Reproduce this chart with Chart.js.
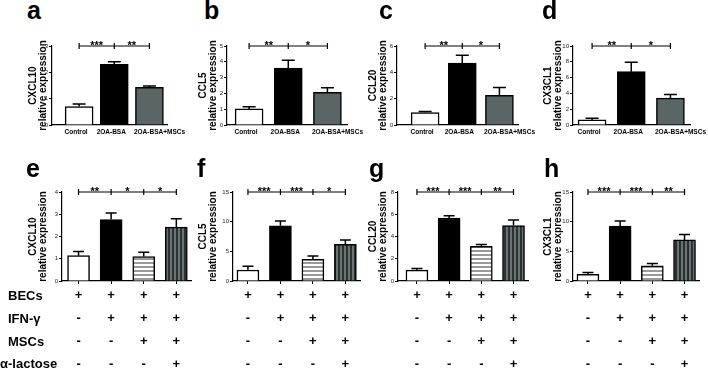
<!DOCTYPE html>
<html>
<head>
<meta charset="utf-8">
<script src="https://cdn.jsdelivr.net/npm/chart.js@4"></script>
<style>
  body { margin: 0; width: 708px; height: 368px; background: #fff; position: relative; overflow: hidden;
         font-family: "Liberation Sans", Arial, sans-serif; }
  canvas { position: absolute; }
  .lbl { position: absolute; font-weight: bold; color: #000; line-height: 1; white-space: nowrap; }
  .letter { font-size: 25px; line-height: 25px; }
  .row { font-size: 13px; line-height: 13px; }
</style>
</head>
<body>
<script>
// ---- data ----
const topCats = ["Control", "2OA-BSA", "2OA-BSA+MSCs"];

const becs = ["+", "+", "+", "+"];
const ifnG = ["-", "+", "+", "+"];
const mscs = ["-", "-", "+", "+"];
const lactose = ["-", "-", "-", "+"];
const rowNames = ["BECs", "IFN-γ", "MSCs", "α-lactose"];

const cxcl10A = [0.70, 2.30, 1.43];
const cxcl10AErr = [0.80, 2.40, 1.48];
const cxcl10ASig = ["***", "**"];

const ccl5B = [1.02, 3.60, 2.07];
const ccl5BErr = [1.15, 4.10, 2.35];
const ccl5BSig = ["**", "*"];

const ccl20C = [0.95, 4.70, 2.25];
const ccl20CErr = [1.02, 5.30, 2.85];
const ccl20CSig = ["**", "*"];

const cx3cl1D = [0.64, 6.75, 3.41];
const cx3cl1DErr = [0.84, 7.95, 3.86];
const cx3cl1DSig = ["**", "*"];

const cxcl10E = [1.14, 2.76, 1.10, 2.42];
const cxcl10EErr = [1.33, 3.06, 1.29, 2.80];
const cxcl10ESig = ["**", "*", "*"];

const ccl5F = [1.85, 9.30, 3.65, 6.20];
const ccl5FErr = [2.50, 10.1, 4.20, 6.90];
const ccl5FSig = ["***", "***", "*"];

const ccl20G = [0.98, 5.66, 3.11, 4.98];
const ccl20GErr = [1.13, 5.87, 3.29, 5.48];
const ccl20GSig = ["***", "***", "**"];

const cx3cl1H = [1.14, 9.25, 2.55, 6.93];
const cx3cl1HErr = [1.42, 10.1, 2.95, 7.84];
const cx3cl1HSig = ["***", "***", "**"];

// ---- fills ----
function stripes(dir, bg, fg) {
  const c = document.createElement("canvas");
  c.width = 4; c.height = 4;
  const g = c.getContext("2d");
  g.fillStyle = bg; g.fillRect(0, 0, 4, 4);
  g.fillStyle = fg;
  if (dir === "h") g.fillRect(0, 0, 4, 2); else g.fillRect(0, 0, 2, 4);
  return g.createPattern(c, "repeat");
}
const topFills = ["#ffffff", "#000000", "#5a6565"];
const bottomFills = ["#ffffff", "#000000", stripes("h", "#ffffff", "#9a9a9a"), stripes("v", "#6a7474", "#2a3030")];

// ---- panels ----
const panels = [
  { key: "a", gene: "CXCL10", values: cxcl10A, err: cxcl10AErr, sig: cxcl10ASig, yMax: 3, step: 1,
    L: 28, axis: 52, c0: 79, pitch: 35, top: 46, bottom: 125 },
  { key: "b", gene: "CCL5", values: ccl5B, err: ccl5BErr, sig: ccl5BSig, yMax: 5, step: 1,
    L: 198, axis: 227, c0: 249, pitch: 39, top: 46, bottom: 125 },
  { key: "c", gene: "CCL20", values: ccl20C, err: ccl20CErr, sig: ccl20CSig, yMax: 6, step: 2,
    L: 368, axis: 397, c0: 425, pitch: 37, top: 46, bottom: 125 },
  { key: "d", gene: "CX3CL1", values: cx3cl1D, err: cx3cl1DErr, sig: cx3cl1DSig, yMax: 10, step: 2,
    L: 543, axis: 573, c0: 592, pitch: 39, top: 46, bottom: 125 },
  { key: "e", gene: "CXCL10", values: cxcl10E, err: cxcl10EErr, sig: cxcl10ESig, yMax: 4, step: 1,
    L: 28, axis: 62, c0: 78.5, pitch: 32.5, top: 192, bottom: 281 },
  { key: "f", gene: "CCL5", values: ccl5F, err: ccl5FErr, sig: ccl5FSig, yMax: 15, step: 5,
    L: 198, axis: 233, c0: 248, pitch: 32.6, top: 192, bottom: 281 },
  { key: "g", gene: "CCL20", values: ccl20G, err: ccl20GErr, sig: ccl20GSig, yMax: 8, step: 2,
    L: 368, axis: 398, c0: 417, pitch: 32.3, top: 192, bottom: 281 },
  { key: "h", gene: "CX3CL1", values: cx3cl1H, err: cx3cl1HErr, sig: cx3cl1HSig, yMax: 15, step: 5,
    L: 543, axis: 573, c0: 588, pitch: 32.3, top: 192, bottom: 281 }
];

const letterPos = { a: [27, -2], b: [204, -2], c: [379, -2], d: [542, -2],
                    e: [26, 156], f: [197, 156], g: [369, 156], h: [544, 156] };

// error bars + significance brackets
const marks = {
  id: "marks",
  afterDatasetsDraw(chart, args, o) {
    const ctx = chart.ctx;
    const y = chart.scales.y;
    const bars = chart.getDatasetMeta(0).data;
    ctx.save();
    ctx.strokeStyle = "#000";
    ctx.lineWidth = 1.5;
    bars.forEach((b, i) => {
      const t = y.getPixelForValue(o.err[i]);
      ctx.beginPath();
      ctx.moveTo(b.x, b.y);
      ctx.lineTo(b.x, t);
      ctx.moveTo(b.x - o.cap / 2, t);
      ctx.lineTo(b.x + o.cap / 2, t);
      ctx.stroke();
    });
    const by = y.getPixelForValue(y.max);
    ctx.lineWidth = 1.2;
    ctx.beginPath();
    ctx.moveTo(bars[0].x, by);
    ctx.lineTo(bars[bars.length - 1].x, by);
    bars.forEach(b => { ctx.moveTo(b.x, by - 3); ctx.lineTo(b.x, by + 3); });
    ctx.stroke();
    ctx.fillStyle = "#000";
    ctx.font = 'bold 11px "Liberation Sans", Arial, sans-serif';
    ctx.textAlign = "center";
    ctx.textBaseline = "alphabetic";
    o.sig.forEach((s, i) => ctx.fillText(s, (bars[i].x + bars[i + 1].x) / 2, by + 3));
    ctx.restore();
  }
};

panels.forEach(p => {
  const isBottom = p.values.length === 4;
  const n = p.values.length;
  const padTop = 14;
  const padRight = 26;
  const xMin = -(p.c0 - p.axis) / p.pitch;
  const xMax = n - 1 + (isBottom ? 0.45 : 0.5);
  const canvasTop = p.top - padTop;
  const xh = isBottom ? 368 - p.bottom : 16;
  const w = Math.round((p.axis - p.L) + (xMax - xMin) * p.pitch + padRight);
  const h = p.bottom - canvasTop + xh;
  const cv = document.createElement("canvas");
  cv.width = w; cv.height = h;
  cv.style.left = p.L + "px"; cv.style.top = canvasTop + "px";
  cv.style.width = w + "px"; cv.style.height = h + "px";
  document.body.appendChild(cv);

  // top-row labels are nudged the way the original figure places them
  const shift = isBottom ? [0, 0, 0, 0] : [-3, -3, 10];
  const fills = isBottom ? bottomFills : topFills;

  new Chart(cv, {
    type: "bar",
    data: {
      datasets: [{
        data: p.values.map((v, i) => ({ x: i, y: v })),
        backgroundColor: fills,
        borderColor: "#000",
        borderWidth: 1.5,
        barThickness: isBottom ? 22 : 28
      }]
    },
    options: {
      responsive: false,
      animation: false,
      devicePixelRatio: 1,
      layout: { padding: { top: padTop, right: padRight, left: 0, bottom: 0 } },
      plugins: {
        legend: { display: false },
        tooltip: { enabled: false },
        marks: { err: p.err, sig: p.sig, cap: isBottom ? 11 : 13 }
      },
      scales: {
        x: {
          type: "linear",
          min: xMin,
          max: xMax,
          offset: false,
          afterBuildTicks: s => { s.ticks = p.values.map((v, i) => ({ value: i + shift[i] / p.pitch })); },
          afterFit: s => { s.height = xh; },
          grid: { display: isBottom, offset: false, drawOnChartArea: false, tickLength: isBottom ? 3 : 0, color: "#000", lineWidth: 1 },
          border: { display: true, color: "#000", width: 1.2 },
          ticks: {
            autoSkip: false,
            maxRotation: 0,
            minRotation: 0,
            padding: isBottom ? 0 : 3,
            color: "#000",
            font: isBottom
              ? { family: '"Liberation Sans", Arial, sans-serif', size: 13, weight: "bold", lineHeight: 23 / 13 }
              : { family: '"Liberation Sans", Arial, sans-serif', size: 6.5, weight: "bold", lineHeight: 1.2 },
            callback: (v, i) => isBottom ? [becs[i], ifnG[i], mscs[i], lactose[i]] : topCats[i]
          }
        },
        y: {
          min: 0,
          max: p.yMax,
          afterFit: s => { s.width = p.axis - p.L; },
          grid: { display: true, drawOnChartArea: false, tickLength: 3, color: "#000", lineWidth: 1 },
          border: { display: true, color: "#000", width: 1.2 },
          ticks: {
            stepSize: p.step,
            padding: 1,
            color: "#222",
            font: { family: '"Liberation Sans", Arial, sans-serif', size: 6 }
          },
          title: {
            display: true,
            text: [p.gene, "relative expression"],
            color: "#000",
            padding: 0,
            font: { family: '"Liberation Sans", Arial, sans-serif', size: 10, weight: "bold", lineHeight: 1 }
          }
        }
      }
    },
    plugins: [marks]
  });

  const lt = document.createElement("div");
  lt.className = "lbl letter";
  lt.textContent = p.key;
  lt.style.left = letterPos[p.key][0] + "px";
  lt.style.top = letterPos[p.key][1] + "px";
  document.body.appendChild(lt);
});

// row names of the treatment table
const rowTops = [289, 312, 335, 357];
rowNames.forEach((name, i) => {
  const d = document.createElement("div");
  d.className = "lbl row";
  d.textContent = name;
  d.style.left = (i === 3 ? 0 : 8) + "px";
  d.style.top = rowTops[i] + "px";
  document.body.appendChild(d);
});
</script>
</body>
</html>
